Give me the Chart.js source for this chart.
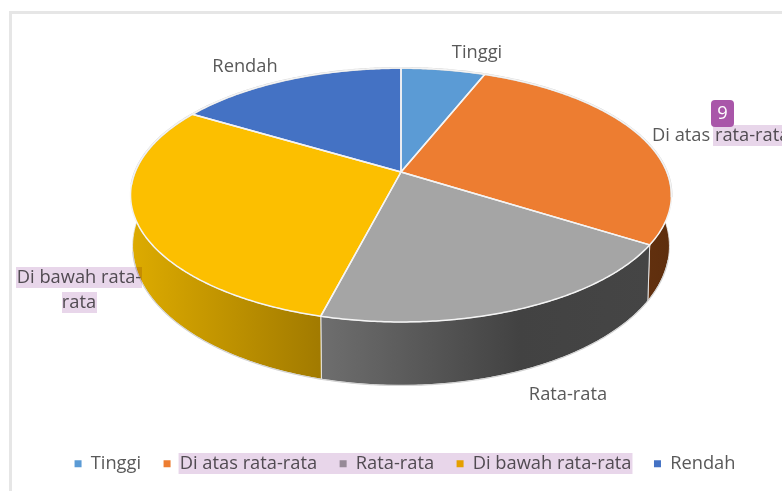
<!DOCTYPE html>
<html>
<head>
<meta charset="utf-8">
<script src="https://cdn.jsdelivr.net/npm/chart.js@4"></script>
<style>
  html, body { margin: 0; padding: 0; background: #fff; overflow: hidden; }
  #wrap { position: relative; width: 782px; height: 491px; overflow: hidden; }
  #frame { position: absolute; left: 9px; top: 11px; width: 900px; height: 700px; border: 3px solid #e6e6e6; }
  #pie { position: absolute; left: 0; top: 0; }
</style>
</head>
<body>
<div id="wrap">
  <div id="frame"></div>
  <canvas id="pie" width="782" height="491"></canvas>
</div>
<script>
// ================= Data =================
const categories = ['Tinggi', 'Di atas rata-rata', 'Rata-rata', 'Di bawah rata-rata', 'Rendah'];
const values = [6, 28, 20, 29.6, 16.4];
const sliceColors = ['#5b9bd5', '#ed7d31', '#a5a5a5', '#fcbf00', '#4472c4'];

const TEXT = '#595959';
const FONT = '"Open Sans", sans-serif';
const FONT_SIZE = 18.3;
const HILITE = '#e8d6ea';

// ================= 3D look of the pie =================
// top disc and bottom disc are the same circle seen in perspective
const TOP = { cx: 401, cy: 172, rx: 266, ry: 122.8, k: 0.181 };
const BOTTOM = { cx: 401, cy: 221, rx: 264, ry: 134.7, k: 0.181 };

function project(disc, angle, r = 1) {
  const x = Math.cos(angle) * r;
  const y = Math.sin(angle) * r;
  const w = 1 - disc.k * y;
  return [disc.cx + disc.rx * x / w, disc.cy + disc.ry * y / w];
}

function rim(ctx, disc, from, to) {
  const steps = Math.max(2, Math.ceil(Math.abs(to - from) / 0.01));
  for (let i = 0; i <= steps; i++) {
    const p = project(disc, from + (to - from) * i / steps);
    ctx.lineTo(p[0], p[1]);
  }
}

// wall gradient for every slice: [x, colour] stops
function wallFill(ctx, index) {
  const stops = {
    1: [[600, '#6a3410'], [680, '#5c2d0d']],
    2: [[322, '#6e6e6e'], [520, '#424242'], [650, '#454545']],
    3: [[135, '#dcaa00'], [322, '#a17a00']]
  }[index];
  if (!stops) return null;
  const g = ctx.createLinearGradient(stops[0][0], 0, stops[stops.length - 1][0], 0);
  const x0 = stops[0][0];
  const span = stops[stops.length - 1][0] - x0;
  stops.forEach(s => g.addColorStop((s[0] - x0) / span, s[1]));
  return g;
}

const pie3d = {
  id: 'pie3d',
  beforeDatasetsDraw(chart) {
    const ctx = chart.ctx;
    const arcs = chart.getDatasetMeta(0).data;
    ctx.save();
    ctx.lineJoin = 'round';

    // walls, only the front part can be seen
    const wallFrom = -0.35;
    const wallTo = Math.PI + 0.35;
    arcs.forEach((arc, i) => {
      const a = Math.max(arc.startAngle, wallFrom);
      const b = Math.min(arc.endAngle, wallTo);
      if (b <= a) return;
      const fill = wallFill(ctx, i);
      if (!fill) return;
      ctx.beginPath();
      rim(ctx, TOP, a, b);
      rim(ctx, BOTTOM, b, a);
      ctx.closePath();
      ctx.fillStyle = fill;
      ctx.fill();
      ctx.lineWidth = 1;
      ctx.strokeStyle = 'rgba(235,235,235,0.9)';
      ctx.stroke();
    });

    // bottom edge of the wall
    ctx.beginPath();
    rim(ctx, BOTTOM, 0.28, Math.PI - 0.22);
    ctx.lineWidth = 1.2;
    ctx.strokeStyle = '#d4d4d4';
    ctx.stroke();

    // top face
    arcs.forEach((arc, i) => {
      ctx.beginPath();
      ctx.moveTo(TOP.cx, TOP.cy);
      rim(ctx, TOP, arc.startAngle, arc.endAngle);
      ctx.closePath();
      ctx.fillStyle = sliceColors[i];
      ctx.fill();
    });

    // outer edge: grey on the back, white on the front
    ctx.beginPath();
    rim(ctx, TOP, Math.PI - 0.1, 2 * Math.PI + 0.2);
    ctx.lineWidth = 2;
    ctx.strokeStyle = '#d2d2d2';
    ctx.stroke();

    arcs.forEach(arc => {
      ctx.beginPath();
      ctx.moveTo(TOP.cx, TOP.cy);
      rim(ctx, TOP, arc.startAngle, arc.endAngle);
      ctx.closePath();
      ctx.lineWidth = 1.5;
      ctx.strokeStyle = '#f4f4f4';
      ctx.stroke();
    });

    ctx.restore();
    return false; // the flat pie of the library is not wanted
  }
};

// ================= Labels, highlight and badge =================
const notes = {
  id: 'notes',
  afterDraw(chart) {
    const ctx = chart.ctx;
    ctx.save();
    ctx.font = FONT_SIZE + 'px ' + FONT;
    ctx.fillStyle = TEXT;
    ctx.textBaseline = 'middle';
    ctx.textAlign = 'center';
    ctx.fillText(categories[0], 477, 53);
    ctx.fillText(categories[4], 245, 66.5);
    ctx.fillText(categories[2], 568, 395);
    ctx.fillText('Di bawah rata-', 79, 278);
    ctx.fillText('rata', 79, 303);
    ctx.textAlign = 'left';
    ctx.fillText(categories[1], 652, 136);

    // highlight is multiplied so that the text below gets its tint
    ctx.globalCompositeOperation = 'multiply';
    ctx.fillStyle = HILITE;
    ctx.fillRect(713, 125, 69, 21);
    ctx.fillRect(16, 267, 126, 21);
    ctx.fillRect(62, 292, 35, 21);
    const hit = chart.legend.legendHitBoxes;
    const hitLeft = hit[1].left + 15;
    ctx.fillRect(hitLeft, 453, hit[3].left + hit[3].width - hitLeft + 1, 21);
    ctx.globalCompositeOperation = 'source-over';

    // badge
    ctx.fillStyle = '#a956a9';
    ctx.beginPath();
    ctx.roundRect(711, 100, 23, 27, 4);
    ctx.fill();
    ctx.fillStyle = '#fff';
    ctx.textAlign = 'center';
    ctx.fillText('9', 722.5, 113.5);
    ctx.restore();
  }
};

// ================= Chart =================
new Chart(document.getElementById('pie'), {
  type: 'pie',
  data: {
    labels: categories,
    datasets: [{ data: values, backgroundColor: sliceColors, borderWidth: 0 }]
  },
  options: {
    responsive: false,
    animation: false,
    layout: { padding: { left: 28, bottom: 8 } },
    plugins: {
      tooltip: { enabled: false },
      legend: {
        position: 'bottom',
        labels: {
          boxWidth: 7,
          boxHeight: 7,
          padding: 22.5,
          color: TEXT,
          font: { family: FONT, size: FONT_SIZE }
        }
      }
    }
  },
  plugins: [pie3d, notes]
});
</script>
</body>
</html>
